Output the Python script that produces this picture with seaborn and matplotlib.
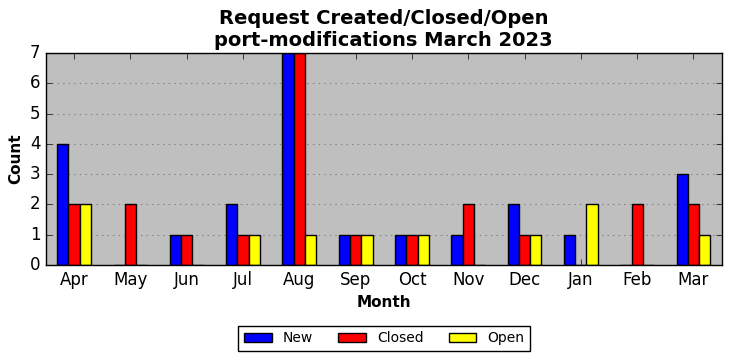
#!/usr/bin/env python3
"""
Grouped bar chart of requests created/closed/open per month
"""

import matplotlib
matplotlib.use('Agg')
import matplotlib.pyplot as plt
import seaborn as sns
import pandas as pd

months = ['Apr', 'May', 'Jun', 'Jul', 'Aug', 'Sep',
          'Oct', 'Nov', 'Dec', 'Jan', 'Feb', 'Mar']
new = [4, 0, 1, 2, 7, 1, 1, 1, 2, 1, 0, 3]
closed = [2, 2, 1, 1, 7, 1, 1, 2, 1, 0, 2, 2]
open_ = [2, 0, 0, 1, 1, 1, 1, 0, 1, 2, 0, 1]
series = ['New', 'Closed', 'Open']
colors = ['blue', 'red', 'yellow']


def main():
    plt.style.use('classic')
    plt.rcParams['font.family'] = ['DejaVu Sans']

    df = pd.DataFrame({
        'Month': months * 3,
        'Count': new + closed + open_,
        'Type': [s for s in series for _ in months],
    })

    fig = plt.figure(figsize=(7.32, 3.61), dpi=100)
    ax = fig.add_axes([0.0628, 0.266, 0.923, 0.587])
    sns.barplot(data=df, x='Month', y='Count', hue='Type', order=months,
                hue_order=series, palette=colors, width=0.6,
                edgecolor='black', linewidth=1, saturation=1, ax=ax)

    ax.set_facecolor('#bfbfbf')
    ax.set_xlim(-0.5, len(months) - 0.5)
    ax.set_ylim(0, 7)
    ax.yaxis.grid(True, linestyle=':', color='#808080', linewidth=0.8)
    ax.set_axisbelow(True)
    ax.tick_params(labelsize=12)
    ax.set_xlabel('Month', fontsize=11, fontweight='bold')
    ax.set_ylabel('Count', fontsize=11, fontweight='bold')
    ax.set_title('Request Created/Closed/Open\nport-modifications March 2023',
                 fontsize=14, fontweight='bold', linespacing=1.2)

    handles, labels = ax.get_legend_handles_labels()
    ax.get_legend().remove()
    fig.legend(handles, labels, loc='center', bbox_to_anchor=(0.525, 0.063),
               ncol=3, fontsize=10, frameon=True, fancybox=False,
               handlelength=2.0, columnspacing=1.8, borderpad=0.4)

    fig.savefig('out.png', dpi=100)
    plt.close(fig)


if __name__ == "__main__":
    main()
